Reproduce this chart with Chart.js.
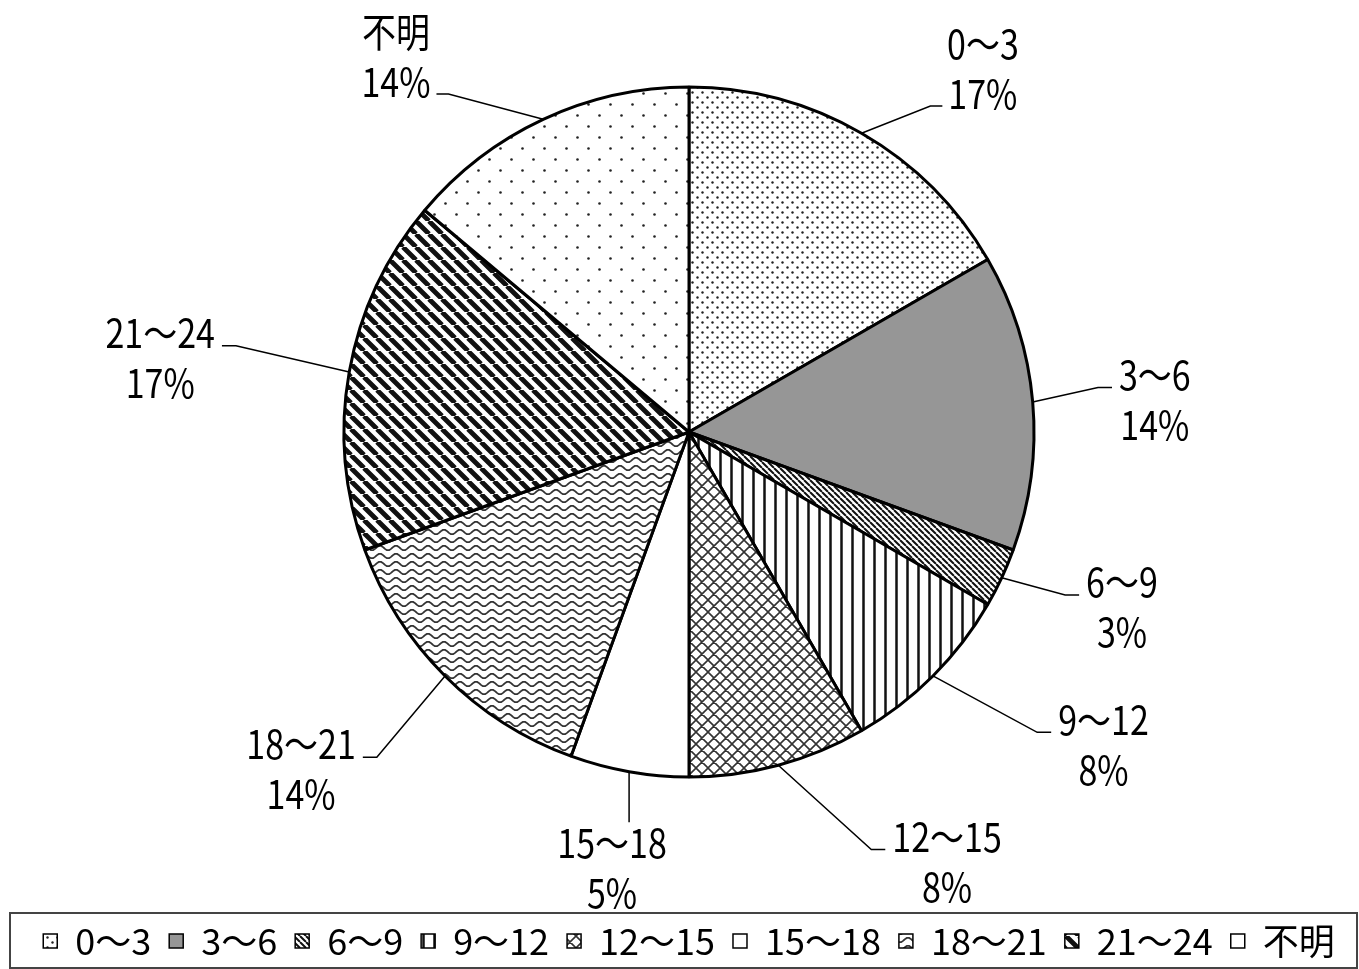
<!DOCTYPE html>
<html lang="ja">
<head>
  <meta charset="UTF-8">
  <title>時間帯別 割合</title>
  <script src="https://cdn.jsdelivr.net/npm/chart.js"></script>
  <style>
    body { margin: 0; background: #fff; }
    canvas { display: block; }
  </style>
</head>
<body>
  <canvas id="pieChart" width="1359" height="969"></canvas>

  <script>
    const categories = ['0～3', '3～6', '6～9', '9～12', '12～15', '15～18', '18～21', '21～24', '不明'];
    const counts = [6, 5, 1, 3, 3, 2, 5, 6, 5];
    const percentLabels = ['17%', '14%', '3%', '8%', '8%', '5%', '14%', '17%', '14%'];

    // where each label sits: turn from slice middle (deg), distance from centre (px)
    const labelShift = [9, 1, -3, -8, -16, 0, 4, -2, -13];
    const labelDist = [467, 467, 467, 519, 501, 443, 514, 534, 476];

    const fontFamily = "'Noto Sans CJK JP', sans-serif";
    const labelFont = '40px ' + fontFamily;
    const squeeze = 0.85; // narrow the label glyphs a bit

    // --- fill patterns ---
    function makeTile(w, h, draw) {
      const c = document.createElement('canvas');
      c.width = w; c.height = h;
      const g = c.getContext('2d');
      g.fillStyle = '#fff';
      g.fillRect(0, 0, w, h);
      g.fillStyle = '#222';
      g.strokeStyle = '#111';
      draw(g, w, h);
      return g.createPattern(c, 'repeat');
    }
    function dots(s, r) {
      return makeTile(s, s, (g) => {
        [[s / 4, s / 4], [s * 3 / 4, s * 3 / 4]].forEach(([x, y]) => {
          g.beginPath(); g.arc(x, y, r, 0, Math.PI * 2); g.fill();
        });
      });
    }
    function downDiag(s, w) {
      return makeTile(s, s, (g) => {
        g.lineWidth = w;
        g.beginPath();
        [-s, 0, s].forEach(k => { g.moveTo(k, 0); g.lineTo(k + s, s); });
        g.stroke();
      });
    }
    const vertical = makeTile(11, 11, (g) => {
      g.lineWidth = 2.5;
      g.beginPath(); g.moveTo(5.5, 0); g.lineTo(5.5, 11); g.stroke();
    });
    const crossHatch = makeTile(12, 12, (g) => {
      g.lineWidth = 1.6;
      g.strokeStyle = '#333';
      g.beginPath();
      [-12, 0, 12].forEach(k => {
        g.moveTo(k, 0); g.lineTo(k + 12, 12);
        g.moveTo(k, 12); g.lineTo(k + 12, 0);
      });
      g.stroke();
    });
    const waves = makeTile(16, 8, (g) => {
      g.lineWidth = 1.8;
      g.strokeStyle = '#333';
      g.beginPath();
      for (let x = -1; x <= 17; x += 0.5) {
        const y = 4 + 2.2 * Math.sin(x / 16 * Math.PI * 2);
        if (x === -1) g.moveTo(x, y); else g.lineTo(x, y);
      }
      g.stroke();
    });

    const fills = [
      dots(10, 1.2),      // 0～3
      '#969696',          // 3～6
      downDiag(6, 2),     // 6～9
      vertical,           // 9～12
      crossHatch,         // 12～15
      '#ffffff',          // 15～18
      waves,              // 18～21
      downDiag(13, 4.8),  // 21～24
      dots(22, 1.3)       // 不明
    ];

    // --- legend sizing (fit on one row, spread like the original) ---
    const legendSize = 36;
    const boxW = 14;
    const mctx = document.createElement('canvas').getContext('2d');
    mctx.font = legendSize + 'px ' + fontFamily;
    const textW = categories.reduce((s, t) => s + mctx.measureText(t).width, 0);
    const itemsW = textW + categories.length * (boxW + legendSize / 2);
    const legendPad = Math.floor(Math.min((1315 - itemsW) / 8, (1359 - 19 - 8 - itemsW) / 10));
    const legendTitleH = 59 - legendPad;

    const labelPlugin = {
      id: 'sliceLabels',
      afterDatasetsDraw(chart) {
        const ctx = chart.ctx;
        const meta = chart.getDatasetMeta(0);
        ctx.save();
        ctx.font = labelFont;
        ctx.fillStyle = '#000';
        ctx.strokeStyle = '#000';
        ctx.lineWidth = 1.5;
        ctx.textAlign = 'center';
        ctx.textBaseline = 'middle';
        meta.data.forEach((arc, i) => {
          const p = arc.getProps(['x', 'y', 'startAngle', 'endAngle', 'outerRadius'], true);
          const mid = (p.startAngle + p.endAngle) / 2;
          const ax = p.x + Math.cos(mid) * p.outerRadius;
          const ay = p.y + Math.sin(mid) * p.outerRadius;
          const la = mid + labelShift[i] * Math.PI / 180;
          const lx = p.x + Math.cos(la) * labelDist[i];
          const ly = p.y + Math.sin(la) * labelDist[i];
          const w1 = ctx.measureText(categories[i]).width * squeeze;
          const w2 = ctx.measureText(percentLabels[i]).width * squeeze;
          const right = lx > p.x;

          ctx.beginPath();
          ctx.moveTo(ax, ay);
          if (Math.sin(la) < -0.75) {
            const ey = ly + 37;
            const ex = right ? lx - w2 / 2 - 6 : lx + w2 / 2 + 6;
            ctx.lineTo(right ? ex - 12 : ex + 12, ey);
            ctx.lineTo(ex, ey);
          } else if (Math.sin(la) > 0.95) {
            ctx.lineTo(ax, ly - 46);
          } else {
            const w = Math.max(w1, w2);
            const ey = ly - 12;
            const ex = right ? lx - w / 2 - 7 : lx + w / 2 + 7;
            ctx.lineTo(right ? ex - 14 : ex + 14, ey);
            ctx.lineTo(ex, ey);
          }
          ctx.stroke();

          ctx.save();
          ctx.translate(lx, ly);
          ctx.scale(squeeze, 1);
          ctx.fillText(categories[i], 0, -25);
          ctx.fillText(percentLabels[i], 0, 25);
          ctx.restore();
        });
        ctx.restore();
      },
      afterDraw(chart) {
        const L = chart.legend;
        const cy = L.top + legendTitleH + legendPad + legendSize / 2;
        const ctx = chart.ctx;
        ctx.save();
        ctx.strokeStyle = '#444';
        ctx.lineWidth = 2;
        ctx.strokeRect(10, cy - 28, 1347, 55);
        ctx.restore();
      }
    };

    new Chart(document.getElementById('pieChart'), {
      type: 'pie',
      data: {
        labels: categories,
        datasets: [{
          data: counts,
          backgroundColor: fills,
          borderColor: '#000',
          borderWidth: 3
        }]
      },
      options: {
        responsive: false,
        devicePixelRatio: 1,
        animation: false,
        radius: 345,
        layout: { padding: { left: 19 } },
        plugins: {
          tooltip: { enabled: false },
          legend: {
            position: 'bottom',
            title: { display: true, text: '', padding: 0, font: { size: legendTitleH, lineHeight: 1 } },
            labels: {
              color: '#000',
              font: { family: fontFamily, size: legendSize },
              boxWidth: boxW,
              boxHeight: boxW,
              padding: legendPad,
              generateLabels(chart) {
                const items = Chart.overrides.doughnut.plugins.legend.labels.generateLabels(chart);
                items.forEach(it => { it.lineWidth = 1.5; it.fontColor = '#000'; });
                return items;
              }
            }
          }
        }
      },
      plugins: [labelPlugin]
    });
  </script>
</body>
</html>
